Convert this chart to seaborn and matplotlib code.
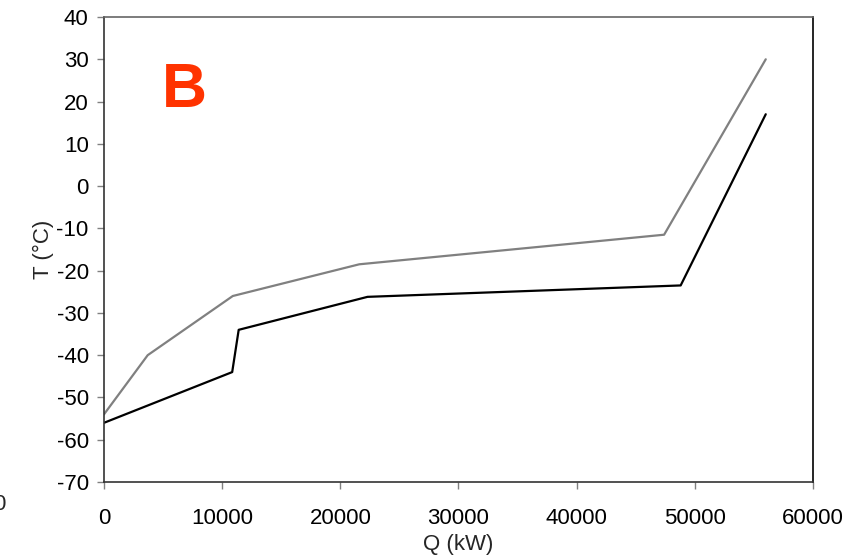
import matplotlib
matplotlib.use("Agg")
import matplotlib.pyplot as plt
import seaborn as sns
import pandas as pd

# hot / cold composite curves
q_hot = [0, 3700, 10900, 21600, 47400, 56000]
t_hot = [-54, -40, -26, -18.5, -11.5, 30]
q_cold = [0, 10850, 11400, 22300, 48800, 56000]
t_cold = [-56, -44, -34, -26.2, -23.5, 17]

x_ticks = [0, 10000, 20000, 30000, 40000, 50000, 60000]
y_ticks = list(range(-70, 41, 10))

df = pd.concat([
    pd.DataFrame({"Q": q_hot, "T": t_hot, "curve": "hot"}),
    pd.DataFrame({"Q": q_cold, "T": t_cold, "curve": "cold"}),
])

sns.set_style("ticks")
plt.rcParams["font.family"] = ["Liberation Sans", "DejaVu Sans"]
plt.rcParams["axes.unicode_minus"] = False

fig = plt.figure(figsize=(8.65, 5.6), dpi=100)
ax = fig.add_axes([0.1202, 0.1393, 0.8197, 0.8303])

sns.lineplot(data=df, x="Q", y="T", hue="curve",
             palette={"hot": "#808080", "cold": "black"}, sort=False,
             estimator=None, linewidth=1.6, legend=False, ax=ax)

ax.set_xlim(0, 60000)
ax.set_ylim(-70, 40)
ax.set_xticks(x_ticks)
ax.set_yticks(y_ticks)
ax.tick_params(axis="both", labelsize=16, color="#808080", length=5, width=1,
               labelcolor="black", pad=6)
ax.tick_params(axis="x", pad=14)

for side in ["left", "bottom"]:
    ax.spines[side].set_color("#333333")
    ax.spines[side].set_linewidth(1.2)
ax.spines["top"].set_color("#666666")
ax.spines["right"].set_color("black")
for side in ["top", "right"]:
    ax.spines[side].set_visible(True)
    ax.spines[side].set_linewidth(1.2)

ax.set_xlabel("Q (kW)", fontsize=16, labelpad=3)
ax.set_ylabel("T (°C)", fontsize=16, labelpad=2)

ax.text(6800, 22.7, "B", fontsize=45, fontweight="bold", color="#FF3300",
        ha="center", va="center")

# stray label from a neighbouring panel, clipped at the left edge
fig.text(5 / 865, 1 - 505 / 560, "0", fontsize=16, ha="right", va="center")

fig.savefig("out.png", dpi=100)
